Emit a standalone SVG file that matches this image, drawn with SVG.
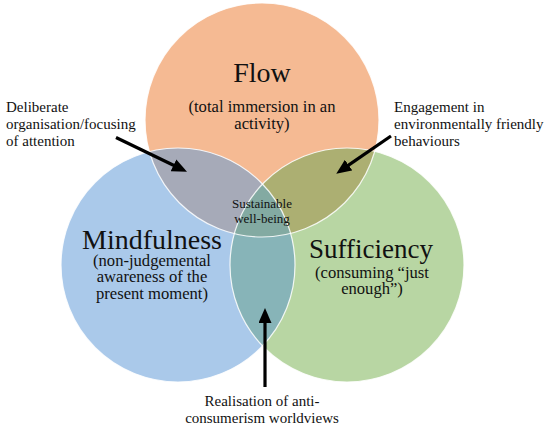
<svg xmlns="http://www.w3.org/2000/svg" width="550" height="429" viewBox="0 0 550 429" font-family="'Liberation Serif', 'DejaVu Serif', 'Times New Roman', Times, serif">
<style>
text{font-family:'Liberation Serif','DejaVu Serif','Times New Roman',Times,serif;fill:#111;}
.title{font-size:28px;text-anchor:middle;}
.sub{font-size:16.6px;text-anchor:middle;}
.lbl{font-size:15px;}
.mid{text-anchor:middle;}
.edge{fill:none;stroke:#ffffff;stroke-width:1.2;stroke-opacity:0.85;}
.arrow{stroke:#000;stroke-width:3.2;fill:none;marker-end:url(#ah);}
</style>
<defs>
<clipPath id="cFlow"><circle cx="262" cy="120" r="117"/></clipPath>
<clipPath id="cMind"><circle cx="178" cy="265" r="117"/></clipPath>
<marker id="ah" markerUnits="userSpaceOnUse" markerWidth="15" markerHeight="13" refX="4" refY="6.5" orient="auto">
<path d="M0,0 L15,6.5 L0,13 z" fill="#000"/>
</marker>
</defs>
<rect width="550" height="429" fill="#ffffff"/>
<g id="node-flow">
<circle cx="262" cy="120" r="117" fill="#F5BA93"/>
</g>
<g id="node-mindfulness">
<circle cx="178" cy="265" r="117" fill="#AAC9EA"/>
</g>
<g id="node-sufficiency">
<circle cx="347" cy="265" r="117" fill="#B8D6A3"/>
</g>
<g id="overlaps">
<circle cx="178" cy="265" r="117" fill="#A6AAB8" clip-path="url(#cFlow)"/>
<circle cx="347" cy="265" r="117" fill="#ACAF72" clip-path="url(#cFlow)"/>
<circle cx="347" cy="265" r="117" fill="#87B4B8" clip-path="url(#cMind)"/>
<g clip-path="url(#cFlow)"><circle cx="347" cy="265" r="117" fill="#83AAA2" clip-path="url(#cMind)"/></g>
<circle class="edge" cx="262" cy="120" r="117"/>
<circle class="edge" cx="178" cy="265" r="117"/>
<circle class="edge" cx="347" cy="265" r="117"/>
</g>
<g id="text-flow">
<text class="title" x="262" y="82">Flow</text>
<text class="sub" x="262" y="112">(total immersion in an</text>
<text class="sub" x="262" y="129">activity)</text>
</g>
<g id="text-mindfulness">
<text class="title" x="152" y="249">Mindfulness</text>
<text class="sub" x="152" y="265.5">(non-judgemental</text>
<text class="sub" x="152" y="282">awareness of the</text>
<text class="sub" x="152" y="298.5">present moment)</text>
</g>
<g id="text-sufficiency">
<text class="title" x="371" y="258" font-size="27" style="font-size:27px">Sufficiency</text>
<text class="sub" x="372" y="277.5">(consuming “just</text>
<text class="sub" x="372" y="293.5">enough”)</text>
</g>
<g id="node-center">
<text class="mid" x="262" y="208" font-size="13">Sustainable</text>
<text class="mid" x="262" y="223" font-size="13">well-being</text>
</g>
<g id="label-deliberate">
<text class="lbl" x="6" y="112">Deliberate</text>
<text class="lbl" x="6" y="129">organisation/focusing</text>
<text class="lbl" x="6" y="146">of attention</text>
</g>
<g id="label-engagement">
<text class="lbl" x="394" y="112">Engagement in</text>
<text class="lbl" x="394" y="129">environmentally friendly</text>
<text class="lbl" x="394" y="146">behaviours</text>
</g>
<g id="label-realisation">
<text class="lbl mid" x="262" y="406">Realisation of anti-</text>
<text class="lbl mid" x="262" y="423">consumerism worldviews</text>
</g>
<g id="connectors">
<line class="arrow" x1="116" y1="137.5" x2="177.1" y2="167"/>
<line class="arrow" x1="391" y1="136" x2="345.3" y2="167.4"/>
<line class="arrow" x1="265" y1="387" x2="265" y2="319"/>
</g>
</svg>
